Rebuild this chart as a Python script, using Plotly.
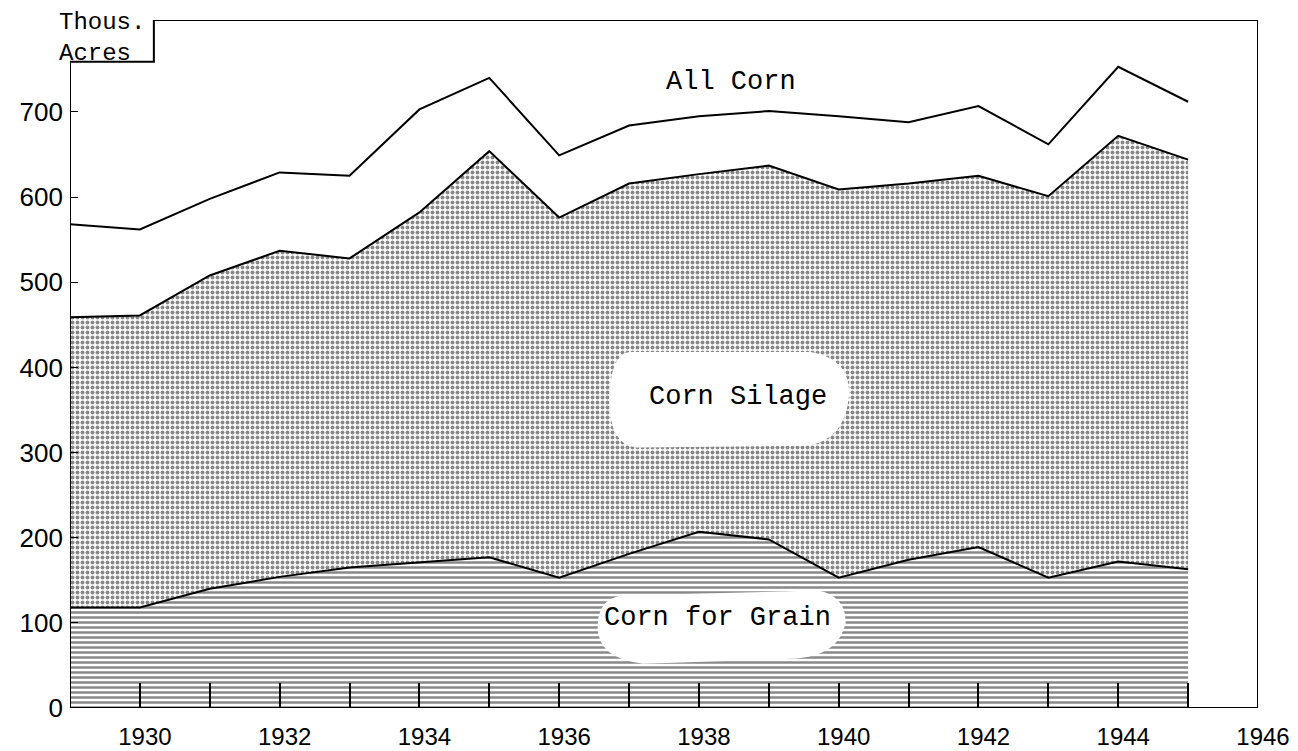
import plotly.graph_objects as go

# ---- data (thousand acres) ----
years = list(range(1929, 1946))
corn_grain = [118, 118, 140, 154, 165, 171, 177, 153, 181, 207, 198, 153, 174, 189, 153, 172, 163]
corn_silage = [341, 343, 368, 383, 363, 411, 477, 423, 435, 420, 439, 456, 442, 436, 448, 500, 481]
all_corn = [568, 562, 598, 629, 625, 703, 740, 649, 684, 695, 701, 695, 688, 707, 662, 753, 712]

x_ticks = [1930, 1932, 1934, 1936, 1938, 1940, 1942, 1944, 1946]
y_ticks = [0, 100, 200, 300, 400, 500, 600, 700]

TYPE_FONT = "Liberation Mono"
LETTER_FONT = "Liberation Sans"

fig = go.Figure()

fig.add_trace(go.Scatter(
    x=years, y=corn_grain, name="Corn for Grain", mode="lines",
    stackgroup="one", line=dict(color="black", width=2),
    fillpattern=dict(shape="-", fgcolor="#111", bgcolor="white", size=5, solidity=0.5),
))
fig.add_trace(go.Scatter(
    x=years, y=corn_silage, name="Corn Silage", mode="lines",
    stackgroup="one", line=dict(color="black", width=2),
    fillpattern=dict(shape=".", fgcolor="#111", bgcolor="white", size=5, solidity=0.5),
))
fig.add_trace(go.Scatter(
    x=years, y=all_corn, name="All Corn", mode="lines",
    line=dict(color="black", width=2),
))

# white blobs behind labels
fig.add_shape(type="path", layer="above", line=dict(width=0), fillcolor="white",
              path="M 1937.0,418 L 1939.6,418 Q 1940.15,410 1940.15,370 Q 1940.1,312 1939.5,308 "
                   "L 1937.1,306 Q 1936.72,310 1936.72,360 Q 1936.72,414 1937.0,418 Z")
fig.add_shape(type="path", layer="above", line=dict(width=0), fillcolor="white",
              path="M 1936.9,132 L 1939.7,138 Q 1940.1,132 1940.1,100 Q 1940.0,62 1939.4,58 "
                   "L 1937.2,52 Q 1936.55,58 1936.55,95 Q 1936.55,128 1936.9,132 Z")

# frame with the notch for the unit label
fig.add_shape(type="path", layer="above", line=dict(color="black", width=2),
              path="M 1929,0 L 1929,759 L 1930.2,759 L 1930.2,808 L 1946,808 L 1946,0 Z")

ann_font = dict(family=TYPE_FONT, size=27, color="black")
fig.add_annotation(x=1938.46, y=735, text="All Corn", showarrow=False, font=ann_font)
fig.add_annotation(x=1938.56, y=365, text="Corn Silage", showarrow=False, font=ann_font)
fig.add_annotation(x=1938.27, y=106, text="Corn for Grain", showarrow=False, font=ann_font)
fig.add_annotation(xref="paper", yref="paper", x=-0.011, y=0.996, xanchor="left", yanchor="middle",
                   text="Thous.", showarrow=False, font=dict(family=TYPE_FONT, size=24, color="black"))
fig.add_annotation(xref="paper", yref="paper", x=-0.011, y=0.952, xanchor="left", yanchor="middle",
                   text="Acres", showarrow=False, font=dict(family=TYPE_FONT, size=24, color="black"))

fig.update_layout(
    width=1290, height=743,
    margin=dict(l=62, r=40, t=12, b=43, autoexpand=False),
    paper_bgcolor="white", plot_bgcolor="white",
    showlegend=False,
    xaxis=dict(range=[1929, 1946], tickmode="array", tickvals=x_ticks,
               ticktext=[str(v) for v in x_ticks], automargin=False,
               ticks="inside", ticklen=25, tickcolor="black", tickwidth=1.5,
               minor=dict(dtick=1, ticks="inside", ticklen=25, tickcolor="black", tickwidth=1.5),
               showgrid=False, zeroline=False, showline=False,
               ticklabelstandoff=12, ticklabelshift=5,
               tickfont=dict(family=LETTER_FONT, size=24, color="black")),
    yaxis=dict(range=[0, 808], tickmode="array", tickvals=y_ticks,
               ticktext=[str(v) for v in y_ticks], automargin=False,
               ticks="inside", ticklen=8, tickcolor="black", tickwidth=1,
               showgrid=False, zeroline=False, showline=False, ticklabelstandoff=6,
               tickfont=dict(family=LETTER_FONT, size=26, color="black")),
)

fig.write_html("out.html")
